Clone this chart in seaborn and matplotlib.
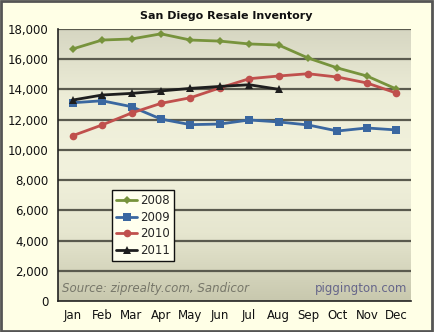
import numpy as np
import pandas as pd
import matplotlib
matplotlib.use("Agg")
import matplotlib.pyplot as plt
import seaborn as sns
from matplotlib.patches import Rectangle
from matplotlib.colors import LinearSegmentedColormap

months = ["Jan", "Feb", "Mar", "Apr", "May", "Jun", "Jul", "Aug", "Sep", "Oct", "Nov", "Dec"]
y2008 = [16680, 17270, 17340, 17680, 17270, 17200, 17010, 16940, 16080, 15420, 14890, 14030]
y2009 = [13120, 13250, 12860, 12040, 11670, 11710, 11980, 11850, 11650, 11250, 11450, 11320]
y2010 = [10940, 11650, 12440, 13080, 13450, 14100, 14710, 14890, 15040, 14820, 14430, 13760]
y2011 = [13300, 13630, 13740, 13900, 14070, 14200, 14310, 14010]
years = ["2008", "2009", "2010", "2011"]
yticks = list(range(0, 18001, 2000))

rows = []
for yr, vals in zip(years, [y2008, y2009, y2010, y2011]):
    for m, v in zip(months, vals):
        rows.append({"Month": m, "Inventory": v, "Year": yr})
df = pd.DataFrame(rows)

sns.set_style("white")
plt.rcParams["font.family"] = ["DejaVu Sans"]

fig = plt.figure(figsize=(4.34, 3.32), dpi=100)
fig.patch.set_facecolor("#FFFFE6")
ax = fig.add_axes([58/434, 1-301/332, (411-58)/434, (301-29)/332])

# gradient background
cmap = LinearSegmentedColormap.from_list("bg", ["#C8C8AE", "#E6E6CF", "#F2F2DD", "#EDEDD7", "#D6D6C2"])
grad = np.linspace(0, 1, 256).reshape(-1, 1)
ax.imshow(grad, extent=[-0.5, 11.5, 18000, 0], aspect="auto", cmap=cmap, zorder=0)

palette = {"2008": "#77933C", "2009": "#3A67A0", "2010": "#C0504D", "2011": "#1E1E1E"}
markers = {"2008": "D", "2009": "s", "2010": "o", "2011": "^"}
sizes = {"2008": 4.5, "2009": 5.5, "2010": 5.5, "2011": 6}
for yr in years:
    sub = df[df["Year"] == yr]
    sns.lineplot(data=sub, x="Month", y="Inventory", ax=ax, color=palette[yr],
                 marker=markers[yr], markersize=sizes[yr], markeredgewidth=0,
                 linewidth=2, label=yr, sort=False, zorder=3)

ax.set_xlim(-0.5, 11.5)
ax.set_ylim(0, 18000)
ax.set_yticks(yticks)
ax.set_yticklabels([f"{v:,}" for v in yticks], fontsize=8.5, color="#111111")
ax.set_xticks(range(12))
ax.set_xticklabels(months, fontsize=8.5, color="#111111")
ax.set_xticks(np.arange(-0.5, 12, 1), minor=True)
ax.tick_params(axis="x", which="major", length=0, pad=6)
ax.tick_params(axis="x", which="minor", length=4, width=1.2, color="#222222", direction="out")
ax.tick_params(axis="y", which="major", length=4, width=1.2, color="#222222", direction="out", pad=3)
ax.set_xlabel("")
ax.set_ylabel("")
for y in yticks[1:]:
    ax.axhline(y, color="#5A5A4E", linewidth=1.6, zorder=1)
for s in ["top", "right"]:
    ax.spines[s].set_visible(False)
ax.spines["left"].set_color("#222222")
ax.spines["left"].set_linewidth(1.2)
ax.spines["bottom"].set_color("#222222")
ax.spines["bottom"].set_linewidth(1.2)

leg = ax.legend(loc="upper left", bbox_to_anchor=(112/434, 1-190/332), bbox_transform=fig.transFigure,
                fontsize=8.5, frameon=True, fancybox=False, handlelength=1.8, handletextpad=0.2,
                labelspacing=0.3, borderpad=0.35, borderaxespad=0)
leg.get_frame().set_edgecolor("#111111")
leg.get_frame().set_facecolor("#FFFFEE")
leg.get_frame().set_linewidth(1.0)
leg.get_frame().set_alpha(1)

fig.text(226/434, 1-16/332, "San Diego Resale Inventory", ha="center", va="center",
         fontsize=8, fontweight="bold", color="#111111")
ax.text(0.012, 0.045, "Source: ziprealty.com, Sandicor", transform=ax.transAxes,
        fontsize=8.5, style="italic", color="#77776A", ha="left", va="center", zorder=4)
ax.text(0.99, 0.045, "piggington.com", transform=ax.transAxes,
        fontsize=8.5, color="#66668A", ha="right", va="center", zorder=4)

fig.add_artist(Rectangle((0.002, 0.003), 0.994, 0.993, transform=fig.transFigure,
                         fill=False, edgecolor="#555555", linewidth=2))

fig.savefig("out.png", dpi=100, facecolor=fig.get_facecolor())
